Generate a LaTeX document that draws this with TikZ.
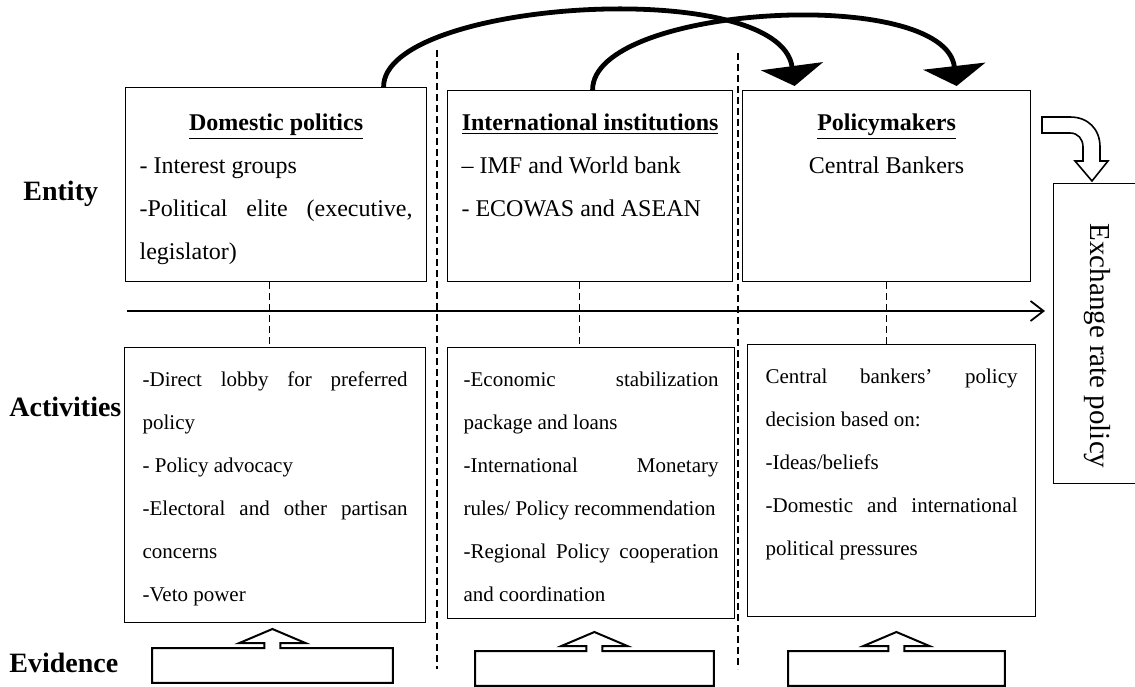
\documentclass[tikz,border=0pt]{standalone}
\usepackage{fontspec}
\setmainfont{Liberation Serif}
\usetikzlibrary{arrows.meta}
\hbadness=10000
\newcommand{\cellbox}[5]{\parbox[t][#2][t]{#1}{\leftskip=#3\relax\rightskip=#3\relax\hyphenpenalty=10000\exhyphenpenalty=10000\tolerance=10000\rule{0pt}{#4}#5}}

\begin{document}
\begin{tikzpicture}[x=0.5pt, y=-0.5pt,
    cell/.style={draw, line width=0.6pt, anchor=north west, inner sep=0pt},
    entityfont/.style={font=\fontsize{12}{21.5}\selectfont},
    actfont/.style={font=\fontsize{10.5}{21.5}\selectfont},
    rowlabel/.style={anchor=base west, inner sep=0pt, font=\fontsize{14}{16}\selectfont\bfseries},
    link/.style={dash pattern=on 3.5pt off 2pt, line width=0.5pt},
    divider/.style={dash pattern=on 3.5pt off 2pt, line width=0.75pt},
    influence/.style={line width=2.4pt, -{Triangle[width=31pt,length=10pt,quick]}},
    evidencebox/.style={line width=1pt, line join=miter}]
    \useasboundingbox (0,0) rectangle (1135,686);

    \node[rowlabel] (entity) at (23,200) {Entity};
    \node[rowlabel] (activities) at (9,416) {Activities};
    \node[rowlabel] (evidence) at (9,672) {Evidence};

    \node[cell, entityfont] (dom) at (125,87) {\cellbox{150.5pt}{97pt}{7pt}{21.5pt}{%
        \hspace*{\fill}\textbf{\underline{Domestic politics}}\hspace*{\fill}\par
        - Interest groups\par
        -Political elite (executive,\linebreak legislator)}};
    \node[cell, entityfont] (intl) at (447,90) {\cellbox{142.5pt}{95.5pt}{7pt}{20pt}{%
        \hspace*{\fill}\textbf{\underline{International institutions}}\hspace*{\fill}\par
        – IMF and World bank\par
        - ECOWAS and ASEAN}};
    \node[cell, entityfont] (pol) at (742,90) {\cellbox{144pt}{95.5pt}{7pt}{20pt}{%
        \hspace*{\fill}\textbf{\underline{Policymakers}}\hspace*{\fill}\par
        \hspace*{\fill}Central Bankers\hspace*{\fill}}};

    \node[cell, actfont] (actdom) at (124,347) {\cellbox{150.5pt}{137.5pt}{9pt}{19.5pt}{%
        -Direct lobby for preferred\linebreak policy\par
        - Policy advocacy\par
        -Electoral and other partisan\linebreak concerns\par
        -Veto power}};
    \node[cell, actfont] (actintl) at (447,347) {\cellbox{143.5pt}{135.5pt}{8pt}{19.5pt}{%
        -Economic stabilization\linebreak package and loans\par
        -International Monetary\linebreak rules/ Policy recommendation\par
        -Regional Policy cooperation\linebreak and coordination}};
    \node[cell, actfont] (actpol) at (747,344) {\cellbox{144pt}{136pt}{9pt}{19.5pt}{%
        Central bankers’ policy\linebreak decision based on:\par
        -Ideas/beliefs\par
        -Domestic and international\linebreak political pressures}};

    \node[cell, minimum width=42pt, minimum height=150pt] (exch) at (1053,183) {};
    \node[rotate=-90, font=\fontsize{14.5}{17}\selectfont] (exchlabel) at (1097,346) {Exchange rate policy};

    \node[anchor=north west, inner sep=0pt, minimum width=120pt, minimum height=17pt] (evdom) at (152,648) {};
    \node[anchor=north west, inner sep=0pt, minimum width=119pt, minimum height=17pt] (evintl) at (475,651) {};
    \node[anchor=north west, inner sep=0pt, minimum width=108pt, minimum height=17pt] (evpol) at (788,651) {};
    \foreach \ev in {evdom,evintl,evpol}
        \draw[evidencebox] (\ev.north west) -- ([xshift=-4pt]\ev.north) -- ++(0,-5) -- ++(-25,0)
            -- ([yshift=9.5pt]\ev.north) -- ++(33,14) -- ++(-25,0) -- ++(0,5)
            -- (\ev.north east) -- (\ev.south east) -- (\ev.south west) -- cycle;

    \draw[divider] (437,50) -- (437,669);
    \draw[divider] (738,53) -- (738,669);

    \coordinate (domlink) at ([xshift=-3.25pt]dom.south);
    \coordinate (intllink) at ([xshift=-5.25pt]intl.south);
    \coordinate (pollink) at (pol.south);
    \draw[link] (domlink) -- (domlink |- actdom.north);
    \draw[link] (intllink) -- (intllink |- actintl.north);
    \draw[link] (pollink) -- (pollink |- actpol.north);

    \coordinate (flowstart) at (127,311);
    \draw[line width=0.9pt, -{Straight Barb[length=6.5pt,width=10pt]}, shorten >=4pt] (flowstart) -- (flowstart -| exch.west);

    \draw[influence] ([xshift=53.75pt]dom.north) .. controls (383,0) and (780,-25) .. ([xshift=-46pt,yshift=2pt]pol.north);
    \draw[influence] ([xshift=1.25pt]intl.north) .. controls (592,5) and (945,-15) .. ([xshift=35pt,yshift=2pt]pol.north);

    \draw[line width=0.8pt, fill=white] (1042,117) -- (1070,117) .. controls (1088,117) and (1100,129) .. (1100,147)
        -- (1100,161) -- (1108,161) -- (1092,181) -- (1075,161) -- (1083,161) -- (1083,147)
        .. controls (1083,139) and (1078,133) .. (1070,133) -- (1042,133) -- cycle;
\end{tikzpicture}
\end{document}
